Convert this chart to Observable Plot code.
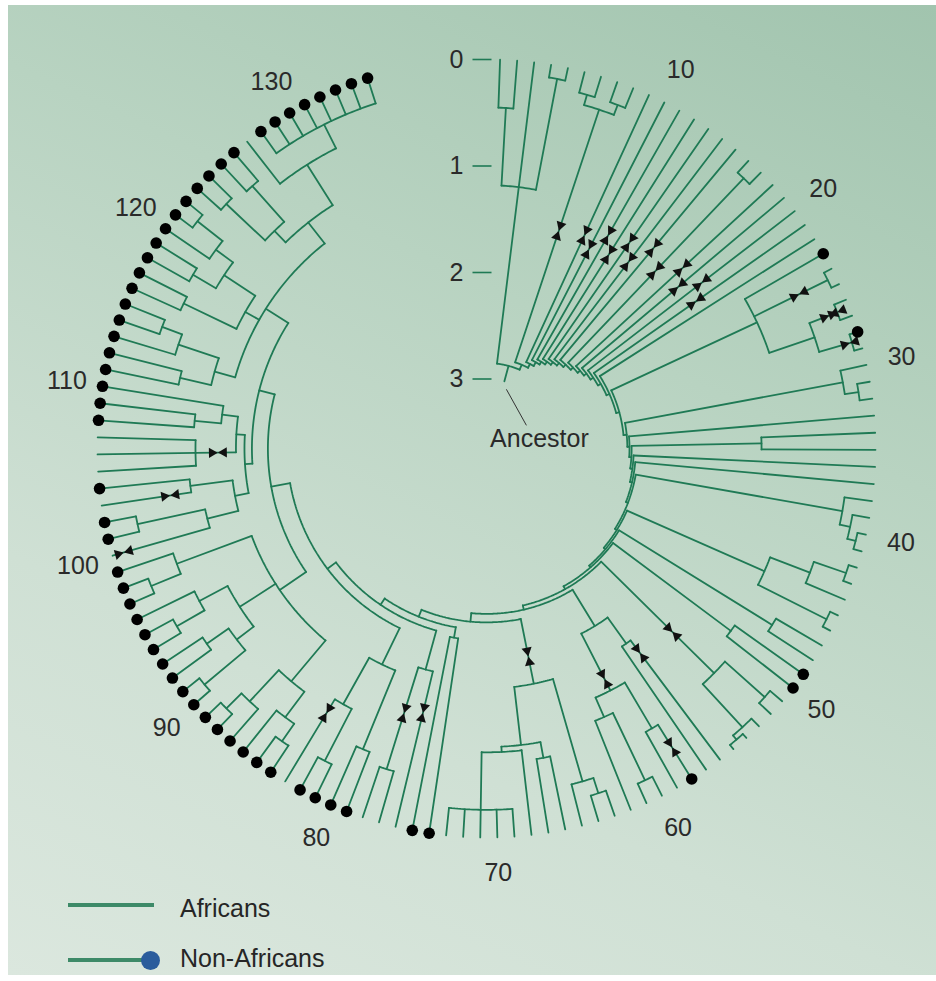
<!DOCTYPE html>
<html><head><meta charset="utf-8">
<script src="https://cdn.jsdelivr.net/npm/d3@7"></script>
<script src="https://cdn.jsdelivr.net/npm/@observablehq/plot@0.6"></script>
<style>
html,body{margin:0;padding:0;background:#fff;}
#panel{position:absolute;left:8px;top:5px;width:928px;height:970px;
 background:linear-gradient(205deg,#a1c4ae 0%,#b8d3c1 35%,#cfe0d4 70%,#dbe7de 100%);
 font-family:"Liberation Sans",Arial,sans-serif;}
#chart{position:absolute;left:0;top:0;}
.leg{position:absolute;font-size:25px;line-height:25px;color:#262626;white-space:nowrap;}
.legline{position:absolute;height:4px;background:#3d8a68;}
.legdot{position:absolute;width:19px;height:19px;border-radius:50%;background:#2a5c9c;}
</style></head><body>
<div id="panel"><div id="chart"></div></div>
<script>
// ---- data ----
// clades hanging off the backbone, clockwise from the top; "L" = one mtDNA type, ")t" = node time
const backboneClades = [
  "((L,L)0.45,L,(L,L)0.12)1.18",
  "((L,L)0.2,(L,L)0.2)0.3",
  "L","L","L","L","L","L","L",
  "(L,L)0.15",
  "L","L","L","L","L",
  "(L,(L,L)0.08,((L,L)0.12,(L,L)0.08)0.4)0.85",
  "(L,(L,L)0.12)0.25",
  "L",
  "(L,L)1.07",
  "L","L",
  "(L,(L,(L,L)0.08)0.16)0.26",
  "(((L,L)0.08,L)0.4,(L,L)0.08)0.8",
  "(L,L)0.5",
  "(L,L)0.79",
  "((L,L)0.15,(L,(L,L)0.05)0.1)0.65",
  "((L,L)1.4,((L,L)0.6,((L,L)0.2,L)0.9)1.1)1.7",
  "(((L,L)0.25,L)0.4,((L,L)0.7,(L,(L,L,L,L,L)0.26)0.8)0.85)1.4",
  "(L,L)1.85",
  "(L,(L,L)0.5)1.5",
  "((L,L)0.6,((L,L)0.35,L)0.9)1.4",
  "((((L,L)0.3,L)0.5,(L,(L,L)0.2)0.4)0.8,(((L,L)0.2,(L,L)0.45)0.7,((L,L)0.3,L)0.6)0.9,((L,L)0.25,L)0.55)1.3",
  "(((L,(L,L)0.3)0.95,(L,L)0.85)1.25,((L,L,L)0.92,((L,L)0.9,L)1.15)1.3)1.38",
  "(((L,L)0.7,(L,(L,L)0.4)0.6)1.0,((L,L)0.5,((L,L)0.45,(L,(L,L)0.2)0.5)0.7)1.05,(((L,L)0.3,(L,L)0.35)0.8,(L,(L,L,L,L,L,L,L,L)0.25)0.5)0.95)1.2"
];
const backboneTimes = [2.85,2.80,2.76,2.72,2.69,2.66,2.63,2.60,2.57,2.54,2.51,2.48,2.45,2.42,2.39,
  2.36,2.33,2.31,2.29,2.27,2.25,2.23,2.21,2.19,2.17,2.14,2.10,2.02,1.95,1.88,1.78,1.60,1.45];
const nonAfrican = [23,28,49,50,58,74,75,79,80,81,82,84,85,86,87,88,89,90,91,92,93,94,95,96,97,98,99,
  101,102,104,108,109,110,111,112,113,114,115,116,117,118,119,120,121,122,123,124,125,126,
  128,129,130,131,132,133,134,135];
const markers = [[5,1.5],[9,1.45],[10,1.55],[11,1.35],[12,1.5],[13,1.3],[14,1.45],[15,1.2],[16,1.35],
  [18,1.15],[19,1.3],[20,1.1],[21,1.25],[24,0.38],[26,0.2],[27,0.12],[29,0.1],
  [52,1.2],[56,1.25],[58,0.35],[60,1.22],[66,1.66],[76,1.1],[77,1.05],[83,0.75],
  [100,0.11],[103,0.65],[106,1.13]];
const leafLabels = [10,20,30,40,50,60,70,80,90,100,110,120,130];
const timeTicks = [0,1,2,3];
const ancestorTime = 3.0;
const legendItems = ["Africans","Non-Africans"];

// ---- layout constants ----
const W = 928, H = 880, CX = 478, CY = 443;
const R0 = 389, K = 106.5;         // radius of time 0 and px per time unit
const A0 = 2, STEP = 2.52;         // leaf angle start / spacing (deg)
const LABEL_R = 425;
const GREEN = "#1f7a55";
const rad = t => R0 - K * t;
const pol = (a, r) => ({x: r * Math.sin(a * Math.PI / 180), y: -r * Math.cos(a * Math.PI / 180)});

// ---- parse tree ----
function parse(s) {
  let i = 0;
  function node() {
    if (s[i] === "L") { i++; return {t: 0, children: null}; }
    i++; // (
    const ch = [node()];
    while (s[i] === ",") { i++; ch.push(node()); }
    i++; // )
    let j = i; while (j < s.length && /[0-9.]/.test(s[j])) j++;
    const t = +s.slice(i, j); i = j;
    return {t, children: ch};
  }
  return node();
}
let root = parse(backboneClades[backboneClades.length - 1]);
for (let k = backboneClades.length - 2; k >= 0; k--)
  root = {t: backboneTimes[k], children: [parse(backboneClades[k]), root]};

const leaves = [];
(function walk(n, p) {
  n.parent = p;
  if (!n.children) { n.index = leaves.length; leaves.push(n); n.angle = A0 + STEP * n.index; return; }
  n.children.forEach(c => walk(c, n));
  n.angle = d3.mean(n.children, c => c.angle);
})(root, null);

// ---- paths ----
const pts = [];
let pid = 0;
function seg(a, t1, t2) { const id = pid++; [t1, t2].forEach(t => pts.push({id, ...pol(a, rad(t))})); }
function arc(a1, a2, t) {
  const id = pid++, n = Math.max(2, Math.ceil((a2 - a1) / 0.5) + 1);
  for (let k = 0; k < n; k++) pts.push({id, ...pol(a1 + (a2 - a1) * k / (n - 1), rad(t))});
}
(function draw(n) {
  if (n.parent) seg(n.angle, n.t, n.parent.t);
  if (n.children) {
    arc(d3.min(n.children, c => c.angle), d3.max(n.children, c => c.angle), n.t);
    n.children.forEach(draw);
  }
})(root);
seg(root.angle, root.t, ancestorTime);

// markers: two triangles facing each other on the branch that spans time t
const markPts = [];
markers.forEach(([li, t]) => {
  let n = leaves[li];
  while (n.parent && n.parent.t <= t) n = n.parent;
  const r = rad(t);
  markPts.push({...pol(n.angle, r - 6), rot: n.angle});
  markPts.push({...pol(n.angle, r + 6), rot: n.angle + 180});
});
const dotPts = nonAfrican.map(i => pol(leaves[i].angle, rad(0)));
const labelPts = leafLabels.map(v => ({...pol(A0 + STEP * v, LABEL_R), text: String(v)}));
const tickLab = timeTicks.map(t => ({x: -30, y: -rad(t), text: String(t)}));
const tickLine = timeTicks.map(t => ({x1: -14, x2: 5, y: -rad(t)}));
const anc = pol(root.angle, rad(ancestorTime));
const ancLabel = [{x: anc.x + 35, y: anc.y + 58, text: "Ancestor"}];
const ancLead = [{x1: anc.x + 2, y1: anc.y + 8, x2: anc.x + 22, y2: anc.y + 44}];

const plot = Plot.plot({
  width: W, height: H, margin: 0,
  x: {domain: [-CX, W - CX], range: [0, W], axis: null},
  y: {domain: [-CY, H - CY], range: [0, H], axis: null},
  style: {background: "transparent", fontFamily: "'Liberation Sans', Arial, sans-serif"},
  marks: [
    Plot.line(pts, {x: "x", y: "y", z: "id", stroke: GREEN, strokeWidth: 1.8, strokeLinejoin: "miter"}),
    Plot.dot(markPts, {x: "x", y: "y", rotate: "rot", symbol: "triangle", r: 3.8, fill: "#111"}),
    Plot.dot(dotPts, {x: "x", y: "y", r: 5.8, fill: "#000"}),
    Plot.text(labelPts, {x: "x", y: "y", text: "text", fontSize: 25, fill: "#2a2a2a"}),
    Plot.text(tickLab, {x: "x", y: "y", text: "text", fontSize: 25, fill: "#2a2a2a"}),
    Plot.link(tickLine, {x1: "x1", x2: "x2", y1: "y", y2: "y", stroke: GREEN, strokeWidth: 1.6}),
    Plot.link(ancLead, {x1: "x1", y1: "y1", x2: "x2", y2: "y2", stroke: "#333", strokeWidth: 1}),
    Plot.text(ancLabel, {x: "x", y: "y", text: "text", fontSize: 25, fill: "#2a2a2a"})
  ]
});
document.getElementById("chart").appendChild(plot);

// legend
const panel = document.getElementById("panel");
legendItems.forEach((name, i) => {
  const top = 898 + i * 55;
  const ln = document.createElement("div");
  ln.className = "legline";
  ln.style.left = "60px"; ln.style.top = top + "px"; ln.style.width = (i ? 78 : 86) + "px";
  panel.appendChild(ln);
  if (i) {
    const d = document.createElement("div");
    d.className = "legdot"; d.style.left = "133px"; d.style.top = (top - 7) + "px";
    panel.appendChild(d);
  }
  const tx = document.createElement("div");
  tx.className = "leg"; tx.textContent = name;
  tx.style.left = "172px"; tx.style.top = (891 + i * 50) + "px";
  panel.appendChild(tx);
});
</script>
</body></html>
